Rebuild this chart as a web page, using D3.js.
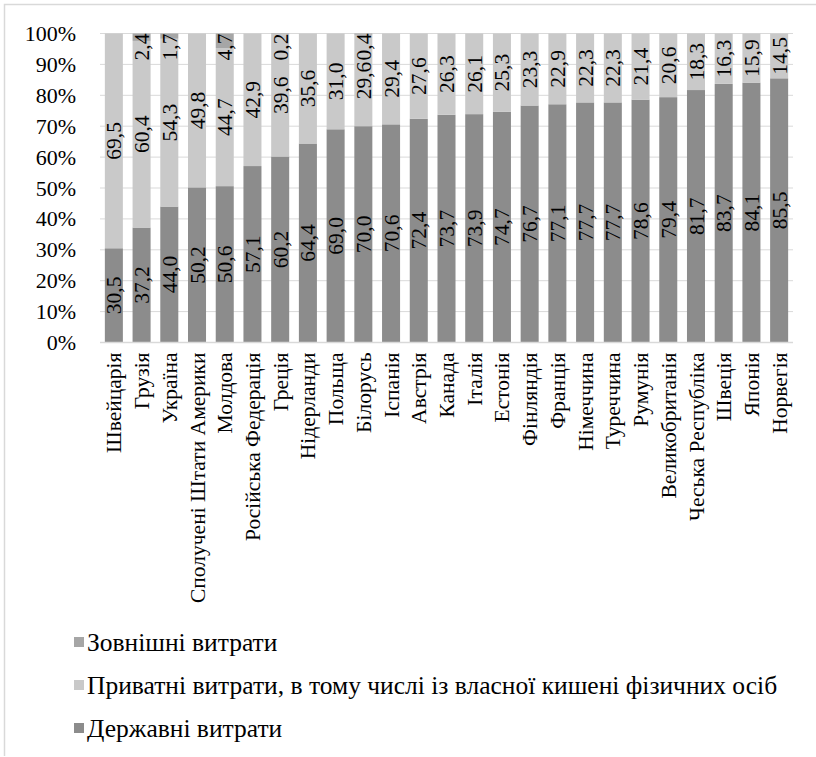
<!DOCTYPE html>
<html>
<head>
<meta charset="utf-8">
<script src="https://cdn.jsdelivr.net/npm/d3@7/dist/d3.min.js"></script>
<style>
  html, body { margin: 0; padding: 0; background: #fff; }
  svg { display: block; }
</style>
</head>
<body>
<svg id="chart" width="816" height="757"></svg>
<script>
// Health expenditure structure by country, % of total
const countries = [
  "Швейцарія", "Грузія", "Україна", "Сполучені Штати Америки", "Молдова",
  "Російська Федерація", "Греція", "Нідерланди", "Польща", "Білорусь",
  "Іспанія", "Австрія", "Канада", "Італія", "Естонія", "Фінляндія",
  "Франція", "Німеччина", "Туреччина", "Румунія", "Великобританія",
  "Чеська Республіка", "Швеція", "Японія", "Норвегія"
];
const publicSpend = [30.5, 37.2, 44.0, 50.2, 50.6, 57.1, 60.2, 64.4, 69.0, 70.0,
  70.6, 72.4, 73.7, 73.9, 74.7, 76.7, 77.1, 77.7, 77.7, 78.6, 79.4, 81.7, 83.7, 84.1, 85.5];
const privateSpend = [69.5, 60.4, 54.3, 49.8, 44.7, 42.9, 39.6, 35.6, 31.0, 29.6,
  29.4, 27.6, 26.3, 26.1, 25.3, 23.3, 22.9, 22.3, 22.3, 21.4, 20.6, 18.3, 16.3, 15.9, 14.5];
const externalSpend = [0, 2.4, 1.7, 0, 4.7, 0, 0.2, 0, 0, 0.4,
  0, 0, 0, 0, 0, 0, 0, 0, 0, 0, 0, 0, 0, 0, 0];
const yTicks = [0, 10, 20, 30, 40, 50, 60, 70, 80, 90, 100];

const seriesKeys = ["public", "private", "external"];
const seriesNames = {
  public: "Державні витрати",
  private: "Приватні витрати, в тому числі із власної кишені фізичних осіб",
  external: "Зовнішні витрати"
};
const colors = { public: "#8c8c8c", private: "#c9c9c9", external: "#a6a6a6" };
const legendOrder = ["external", "private", "public"];

const FONT = '"Liberation Serif", "Times New Roman", serif';

const rows = countries.map((c, i) => ({
  country: c, public: publicSpend[i], private: privateSpend[i], external: externalSpend[i]
}));

const svg = d3.select("#chart");
const margin = { left: 100, right: 23, top: 33.5, bottom: 414.5 };
const W = 816, H = 757;
const plotW = W - margin.left - margin.right;
const plotH = H - margin.top - margin.bottom;

// chart frame (top and left edges)
svg.append("path")
  .attr("d", `M4.5,756 V4.5 H816`)
  .attr("fill", "none").attr("stroke", "#d9d9d9").attr("stroke-width", 1.5);

const g = svg.append("g").attr("transform", `translate(${margin.left},${margin.top})`);

const x = d3.scaleBand().domain(countries).range([0, plotW])
  .paddingInner(0.35).paddingOuter(0.175);
const y = d3.scaleLinear().domain([0, 100]).range([plotH, 0]);

// gridlines
g.append("g").selectAll("line").data(yTicks.filter(t => t > 0)).join("line")
  .attr("x1", 0).attr("x2", plotW)
  .attr("y1", d => y(d)).attr("y2", d => y(d))
  .attr("stroke", "#d9d9d9").attr("stroke-width", 1);

// y axis labels
const yAxis = d3.axisLeft(y).tickValues(yTicks).tickFormat(d => d + "%").tickSize(0).tickPadding(24);
const ya = g.append("g").call(yAxis).attr("font-family", FONT).attr("font-size", 22);
ya.select(".domain").remove();
ya.selectAll("text").attr("fill", "#000");

// stacked bars
const stack = d3.stack().keys(seriesKeys)(rows);
const layers = g.append("g").selectAll("g").data(stack).join("g")
  .attr("fill", d => colors[d.key]);
layers.selectAll("rect").data(d => d.map(v => ({ key: d.key, v }))).join("rect")
  .attr("x", d => x(d.v.data.country))
  .attr("width", x.bandwidth())
  .attr("y", d => y(d.v[1]))
  .attr("height", d => y(d.v[0]) - y(d.v[1]));

// baseline
g.append("line").attr("x1", 0).attr("x2", plotW).attr("y1", plotH).attr("y2", plotH)
  .attr("stroke", "#d9d9d9").attr("stroke-width", 1.5);

// value labels, rotated, kept inside the plot area
const fmt = v => v.toFixed(1).replace(".", ",");
const labelG = g.append("g").attr("font-family", FONT).attr("font-size", 21.5);
stack.forEach(layer => {
  layer.forEach(v => {
    const val = v.data[layer.key];
    if (!val) return;
    const cx = x(v.data.country) + x.bandwidth() / 2;
    const t = labelG.append("text")
      .attr("text-anchor", "middle")
      .attr("dy", "0.35em")
      .text(fmt(val));
    const len = t.node().getComputedTextLength();
    let cy = y((v[0] + v[1]) / 2);
    cy = Math.max(cy, len / 2);
    t.attr("transform", `translate(${cx},${cy}) rotate(-90)`);
  });
});

// category labels
g.append("g").attr("font-family", FONT).attr("font-size", 21.5)
  .selectAll("text").data(countries).join("text")
  .attr("text-anchor", "end")
  .attr("dy", "0.35em")
  .attr("transform", d => `translate(${x(d) + x.bandwidth() / 2},${plotH + 10}) rotate(-90)`)
  .text(d => d);

// legend
const legend = svg.append("g").attr("transform", "translate(74,0)")
  .attr("font-family", FONT).attr("font-size", 25.5);
const legendY = [642, 685, 728];
legendOrder.forEach((k, i) => {
  const row = legend.append("g").attr("transform", `translate(0,${legendY[i]})`);
  row.append("rect").attr("x", 0).attr("y", -5).attr("width", 10).attr("height", 10).attr("fill", colors[k]);
  row.append("text").attr("x", 13).attr("dy", "0.35em").text(seriesNames[k]);
});
</script>
</body>
</html>
